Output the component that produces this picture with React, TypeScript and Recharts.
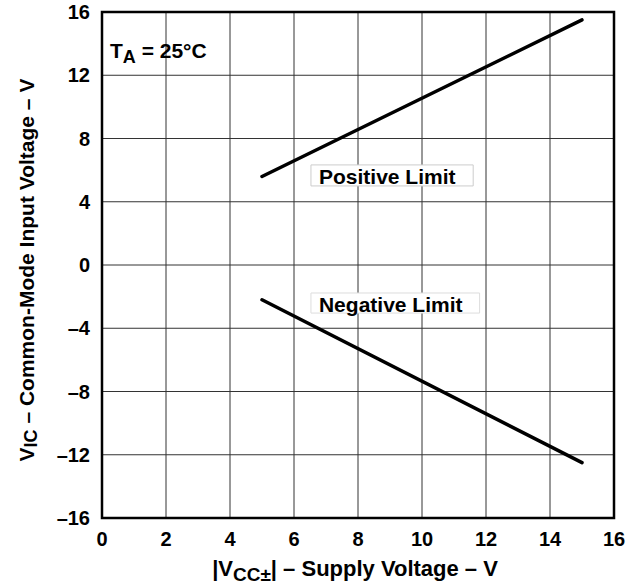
import React from "react";
import {
  LineChart,
  Line,
  XAxis,
  YAxis,
  CartesianGrid,
  ReferenceArea,
  ReferenceDot,
} from "recharts";

const supplyVoltage = [5, 15];
const positiveLimit = [5.6, 15.5];
const negativeLimit = [-2.2, -12.5];
const xTicks = [0, 2, 4, 6, 8, 10, 12, 14, 16];
const yTicks = [-16, -12, -8, -4, 0, 4, 8, 12, 16];

const posData = supplyVoltage.map((x, i) => ({ x, y: positiveLimit[i] }));
const negData = supplyVoltage.map((x, i) => ({ x, y: negativeLimit[i] }));

const FONT = "'Liberation Sans', Arial, Helvetica, sans-serif";
const fmt = (v: number) => String(v).replace("-", "\u2013");

const boxLabel = (text: string) => (props: any) => {
  const vb = props.viewBox || {};
  return (
    <text
      x={vb.x + 8}
      y={vb.y + vb.height / 2 + 1}
      dominantBaseline="central"
      fontFamily={FONT}
      fontWeight="bold"
      fontSize={21}
      fill="#000"
    >
      {text}
    </text>
  );
};

const taLabel = (props: any) => {
  const vb = props.viewBox || {};
  return (
    <text x={vb.x + 8} y={vb.y + 46} fontFamily={FONT} fontWeight="bold" fontSize={21} fill="#000">
      <tspan>T</tspan>
      <tspan dy={5} fontSize={18}>A</tspan>
      <tspan dy={-5}> = 25°C</tspan>
    </text>
  );
};

const yTitle = (props: any) => {
  const vb = props.viewBox || {};
  const cx = 26;
  const cy = vb.y + vb.height / 2 + 5;
  return (
    <text
      x={cx}
      y={cy}
      transform={`rotate(-90, ${cx}, ${cy})`}
      textAnchor="middle"
      dominantBaseline="central"
      fontFamily={FONT}
      fontWeight="bold"
      fontSize={21}
      fill="#000"
    >
      <tspan>V</tspan>
      <tspan dy={5} fontSize={18}>IC</tspan>
      <tspan dy={-5}> – Common-Mode Input Voltage – V</tspan>
    </text>
  );
};

const xTitle = (props: any) => {
  const vb = props.viewBox || {};
  const cx = vb.x + vb.width / 2 - 3;
  return (
    <text
      x={cx}
      y={576}
      textAnchor="middle"
      fontFamily={FONT}
      fontWeight="bold"
      fontSize={22}
      fill="#000"
    >
      <tspan>|V</tspan>
      <tspan dy={5} fontSize={19}>CC±</tspan>
      <tspan dy={-5}>| – Supply Voltage – V</tspan>
    </text>
  );
};

export default function App() {
  return (
    <div style={{ position: "absolute", left: 0, top: 0, width: 627, height: 582 }}>
      <LineChart
        width={627}
        height={582}
        margin={{ top: 12, right: 13, left: 42, bottom: 4 }}
      >
        <CartesianGrid stroke="#333" strokeWidth={1} />
        <XAxis
          type="number"
          dataKey="x"
          domain={[0, 16]}
          ticks={xTicks}
          interval={0}
          allowDataOverflow
          height={60}
          tickLine={false}
          tickSize={0}
          tickMargin={14}
          axisLine={false}
          tick={{ fill: "#000", fontSize: 20, fontWeight: "bold", fontFamily: FONT }}
          tickFormatter={fmt}
          label={{ content: xTitle }}
        />
        <YAxis
          type="number"
          dataKey="y"
          domain={[-16, 16]}
          ticks={yTicks}
          interval={0}
          allowDataOverflow
          width={60}
          tickLine={false}
          tickSize={0}
          tickMargin={12}
          axisLine={false}
          tick={{ fill: "#000", fontSize: 20, fontWeight: "bold", fontFamily: FONT }}
          tickFormatter={fmt}
          label={{ content: yTitle }}
        />
        <ReferenceArea
          x1={0}
          x2={16}
          y1={-16}
          y2={16}
          fill="none"
          fillOpacity={0}
          stroke="#000"
          strokeWidth={2.5}
        />
        <ReferenceArea
          x1={6.53}
          x2={11.6}
          y1={5.0}
          y2={6.33}
          fill="#fff"
          fillOpacity={1}
          stroke="#ccc"
          strokeWidth={1}
          label={{ content: boxLabel("Positive Limit") }}
        />
        <ReferenceArea
          x1={6.53}
          x2={11.8}
          y1={-3.04}
          y2={-1.77}
          fill="#fff"
          fillOpacity={1}
          stroke="#ddd"
          strokeWidth={1}
          label={{ content: boxLabel("Negative Limit") }}
        />
        <ReferenceDot x={0} y={16} r={0} fill="none" stroke="none" label={{ content: taLabel }} />
        <Line
          data={posData}
          dataKey="y"
          type="linear"
          stroke="#000"
          strokeWidth={3.5}
          strokeLinecap="round"
          dot={false}
          isAnimationActive={false}
        />
        <Line
          data={negData}
          dataKey="y"
          type="linear"
          stroke="#000"
          strokeWidth={3.5}
          strokeLinecap="round"
          dot={false}
          isAnimationActive={false}
        />
      </LineChart>
    </div>
  );
}
